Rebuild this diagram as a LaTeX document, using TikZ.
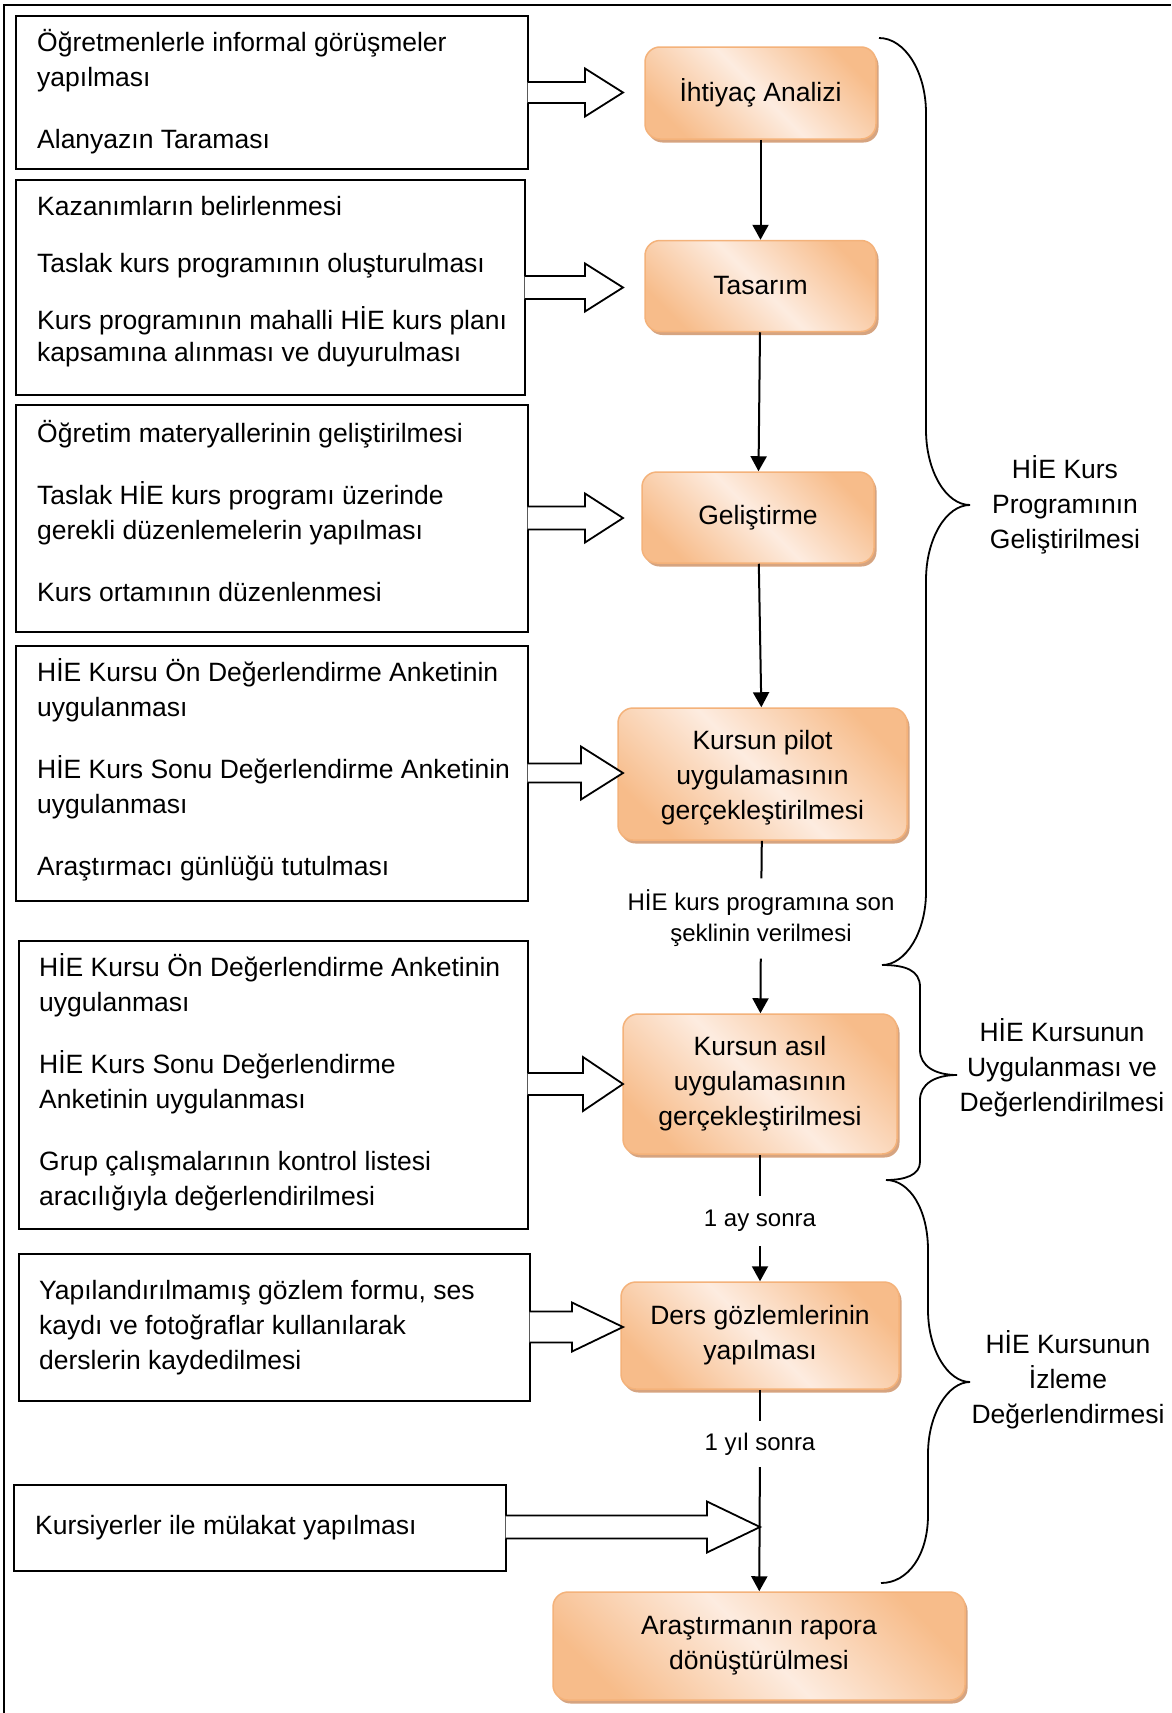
\documentclass[tikz,border=0pt]{standalone}
\usepackage{fontspec}
\setmainfont{Liberation Sans}
\usetikzlibrary{arrows.meta,shadows,calc}
\definecolor{odark}{RGB}{247,188,138}
\definecolor{olight}{RGB}{253,236,224}
\definecolor{oborder}{RGB}{244,178,122}
\definecolor{oshadow}{RGB}{214,164,128}
\pgfdeclarehorizontalshading{peach}{100bp}{color(0bp)=(odark); color(24bp)=(odark); color(50bp)=(olight); color(76bp)=(odark); color(100bp)=(odark)}
\newcommand\barrowshape[6]{%
  \filldraw[barrow] let \p1=(#1.east) in
    ({\x1-1.2pt},{-(#2-#3)*1pt}) -- ({#4*1pt},{-(#2-#3)*1pt}) -- ({#4*1pt},{-(#2-#5)*1pt})
    -- ({#6*1pt},{-#2*1pt}) -- ({#4*1pt},{-(#2+#5)*1pt}) -- ({#4*1pt},{-(#2+#3)*1pt})
    -- ({\x1-1.2pt},{-(#2+#3)*1pt});
}
\tikzset{
  lbox/.style={draw=black, line width=1.8pt, fill=white, inner sep=0pt},
  ltext/.style={anchor=west, align=left, inner sep=0pt, font=\fontsize{26.5pt}{35pt}\selectfont},
  obox/.style={rounded corners=15pt, draw=oborder, line width=1.5pt, shading=peach, shading angle=45,
    align=center, inner sep=0pt, font=\fontsize{26.5pt}{35pt}\selectfont,
    drop shadow={shadow xshift=2.5pt, shadow yshift=-3.5pt, fill=oshadow, opacity=1}},
  conn/.style={line width=2pt},
  carrow/.style={conn, -{Triangle[length=15pt,width=16pt]}},
  clabel/.style={inner sep=0pt, align=center, font=\fontsize{24pt}{31pt}\selectfont},
  brace/.style={line width=1.8pt},
  barrow/.style={fill=white, draw=black, line width=1.8pt, line join=miter},
  blabel/.style={align=center, inner sep=0pt, font=\fontsize{26.5pt}{35pt}\selectfont}
}
\begin{document}
\begin{tikzpicture}[x=1pt,y=-1pt]
\useasboundingbox (0,0) rectangle (1171,1713);
\fill[white] (0,0) rectangle (1171,1713);
\draw[line width=2pt] (4,1713) -- (4,5) -- (1171,5);

% left boxes
\node[lbox, minimum width=512pt, minimum height=153pt] (l1) at (272,92.5) {};
\node[lbox, minimum width=509pt, minimum height=215pt] (l2) at (270.5,287.5) {};
\node[lbox, minimum width=512pt, minimum height=227pt] (l3) at (272,518.5) {};
\node[lbox, minimum width=512pt, minimum height=255pt] (l4) at (272,773.5) {};
\node[lbox, minimum width=509pt, minimum height=288pt] (l5) at (273.5,1085) {};
\node[lbox, minimum width=511pt, minimum height=147pt] (l6) at (274.5,1327.5) {};
\node[lbox, minimum width=492pt, minimum height=86pt] (l7) at (260,1528) {};

\node[ltext] (t1) at (37,92) {Öğretmenlerle informal görüşmeler\\yapılması\\[27pt]Alanyazın Taraması};
\node[ltext, font=\fontsize{26.5pt}{32pt}\selectfont] (t2) at (37,282) {Kazanımların belirlenmesi\\[25pt]Taslak kurs programının oluşturulması\\[25pt]Kurs programının mahalli HİE kurs planı\\kapsamına alınması ve duyurulması};
\node[ltext] (t3) at (37,511) {Öğretim materyallerinin geliştirilmesi\\[27pt]Taslak HİE kurs programı üzerinde\\gerekli düzenlemelerin yapılması\\[27pt]Kurs ortamının düzenlenmesi};
\node[ltext] (t4) at (37,769.5) {HİE Kursu Ön Değerlendirme Anketinin\\uygulanması\\[27pt]HİE Kurs Sonu Değerlendirme Anketinin\\uygulanması\\[27pt]Araştırmacı günlüğü tutulması};
\node[ltext] (t5) at (39,1082.5) {HİE Kursu Ön Değerlendirme Anketinin\\uygulanması\\[27pt]HİE Kurs Sonu Değerlendirme\\Anketinin uygulanması\\[27pt]Grup çalışmalarının kontrol listesi\\aracılığıyla değerlendirilmesi};
\node[ltext] (t6) at (39,1328) {Yapılandırılmamış gözlem formu, ses\\kaydı ve fotoğraflar kullanılarak\\derslerin kaydedilmesi};
\node[ltext] (t7) at (35,1528) {Kursiyerler ile mülakat yapılması};

% orange boxes
\node[obox, minimum width=231pt, minimum height=92pt] (b1) at (760.5,93) {İhtiyaç Analizi};
\node[obox, minimum width=231pt, minimum height=91pt] (b2) at (760.5,286) {Tasarım};
\node[obox, minimum width=232pt, minimum height=91pt] (b3) at (758,517.5) {Geliştirme};
\node[obox, minimum width=289pt, minimum height=132pt] (b4) at (762.5,774) {\rule{0pt}{27pt}Kursun pilot\\uygulamasının\\gerçekleştirilmesi};
\node[obox, minimum width=274pt, minimum height=140pt] (b5) at (760,1084) {Kursun asıl\\uygulamasının\\gerçekleştirilmesi};
\node[obox, minimum width=278pt, minimum height=107pt] (b6) at (760,1335.5) {Ders gözlemlerinin\\yapılması};
\node[obox, minimum width=412pt, minimum height=108pt] (b7) at (759,1646) {Araştırmanın rapora\\dönüştürülmesi};

% center labels
\node[clabel, minimum height=80pt] (lab1) at (761,918.5) {HİE kurs programına son\\şeklinin verilmesi};
\node[clabel, minimum height=50pt] (lab2) at (760,1221) {1 ay sonra};
\node[clabel, minimum height=46pt] (lab3) at (760,1444) {1 yıl sonra};

% connectors
\draw[carrow] (b1) -- (b2);
\draw[carrow] (b2) -- (b3);
\draw[carrow] (b3) -- (b4);
\draw[conn] (b4) -- (lab1);
\draw[carrow] (lab1) -- (b5);
\draw[conn] (b5) -- (lab2);
\draw[carrow] (lab2) -- (b6);
\draw[conn] (b6) -- (lab3);
\draw[carrow] (lab3) -- (b7);

% block arrows
\barrowshape{l1}{92.5}{10.5}{585}{24}{623}
\barrowshape{l2}{287.5}{11.5}{585}{24}{623}
\barrowshape{l3}{518}{11.5}{585}{24.5}{623}
\barrowshape{l4}{773}{9.5}{581}{26.5}{623}
\barrowshape{l5}{1084}{11}{583}{27}{623}
\barrowshape{l6}{1327}{15.5}{572}{24.5}{623}
\barrowshape{l7}{1527}{11.5}{707}{25.5}{760}

% braces
\draw[brace] (879,38) .. controls (905,38) and (926,72) .. (926,113) -- (926,430)
  .. controls (926,471) and (946,505) .. (970,505)
  .. controls (946,505) and (926,539) .. (926,580) -- (926,892)
  .. controls (926,933) and (905,965) .. (882,965);
\draw[brace] (882,965) .. controls (905,965) and (920,970) .. (920,987) -- (920,1050)
  .. controls (920,1066) and (935,1075) .. (957,1075)
  .. controls (935,1075) and (920,1084) .. (920,1100) -- (920,1162)
  .. controls (920,1175) and (905,1180) .. (886,1180);
\draw[brace] (886,1180) .. controls (910,1180) and (928,1210) .. (928,1250) -- (928,1310)
  .. controls (928,1350) and (948,1382) .. (970,1382)
  .. controls (948,1382) and (928,1414) .. (928,1454) -- (928,1515)
  .. controls (928,1555) and (908,1583) .. (881,1583);

\node[blabel] (g1) at (1065,505) {HİE Kurs\\Programının\\Geliştirilmesi};
\node[blabel] (g2) at (1062,1068) {HİE Kursunun\\Uygulanması ve\\Değerlendirilmesi};
\node[blabel] (g3) at (1068,1380) {HİE Kursunun\\İzleme\\Değerlendirmesi};
\end{tikzpicture}
\end{document}
